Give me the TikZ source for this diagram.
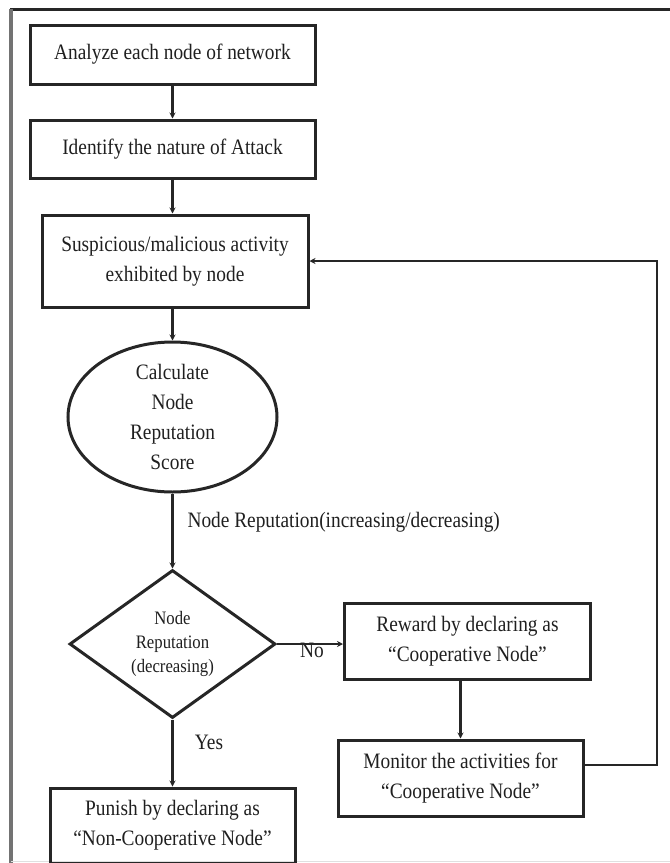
\documentclass[tikz,border=0pt]{standalone}
\usepackage{fontspec}
\setmainfont[FakeStretch=0.88]{Liberation Serif}
\usetikzlibrary{positioning,shapes.geometric,arrows.meta}

\begin{document}
\begin{tikzpicture}[x=1pt,y=-1pt,
  every node/.style={font=\fontsize{22}{30}\selectfont, text=black!88},
  stepbox/.style={draw=black!85, line width=3pt, rectangle, align=center, inner sep=0pt},
  scorebox/.style={draw=black!85, line width=3pt, ellipse, align=center, inner sep=-8pt,
    minimum width=209pt, minimum height=150pt},
  testbox/.style={draw=black!85, line width=3pt, diamond, aspect=1.4, align=center, inner sep=0pt,
    minimum width=206pt, minimum height=148pt, font=\fontsize{19}{24}\selectfont},
  flow/.style={draw=black!85, line width=2.2pt, -{Stealth[length=6pt,width=6pt]}}
 ]
 % frame
 \useasboundingbox (0,0) rectangle (670,863);
 \draw[black!85, line width=3pt] (10,9) -- (670,9);
 \draw[black!55, line width=4pt] (11,9) -- (11,863);
 \draw[black!12, line width=1pt] (11,861) -- (670,861);

 % main column
 \node[stepbox, minimum width=285pt, minimum height=59pt] (analyze) at (172.5,54.5) {Analyze each node of network};
 \node[stepbox, minimum width=285pt, minimum height=58pt, below=33pt of analyze] (identify) {Identify the nature of Attack};
 \node[stepbox, minimum width=266pt, minimum height=92pt, below=34pt of identify, xshift=2.5pt] (suspect) {Suspicious/malicious activity\\exhibited by node};
 \node[scorebox, below=32pt of suspect, xshift=-2.5pt] (score) {Calculate\\Node\\Reputation\\Score};
 \node[testbox, below=75pt of score] (check) {Node\\Reputation\\(decreasing)};
 \node[stepbox, minimum width=245pt, minimum height=75pt, below=67pt of check] (punish) {Punish by declaring as\\“Non-Cooperative Node”};

 % right branch
 \node[stepbox, minimum width=246pt, minimum height=76pt, right=66pt of check, yshift=3pt] (reward) {Reward by declaring as\\“Cooperative Node”};
 \node[stepbox, minimum width=245pt, minimum height=76pt, below=58pt of reward, xshift=-7pt] (monitor) {Monitor the activities for\\“Cooperative Node”};
 \coordinate (loop) at (657,765);

 % labels
 \node[anchor=west] (trend) at (184,522) {Node Reputation(increasing/decreasing)};
 \node (no) at (312,650) {No};
 \node (yes) at (209,742) {Yes};

 % connectors
 \draw[flow] (analyze) -- (identify);
 \draw[flow] (identify) -- (identify.south |- suspect.north);
 \draw[flow] (suspect.south -| score.north) -- (score);
 \draw[flow] (score) -- (check);
 \draw[flow] (check) -- (punish);
 \draw[flow] (check.east) -- (check.east -| reward.west);
 \draw[flow] (reward.south -| monitor.north) -- (monitor.north);
 \draw[flow] (monitor.east |- loop) -- (loop) -- (loop |- suspect.east) -- (suspect.east);
\end{tikzpicture}
\end{document}
